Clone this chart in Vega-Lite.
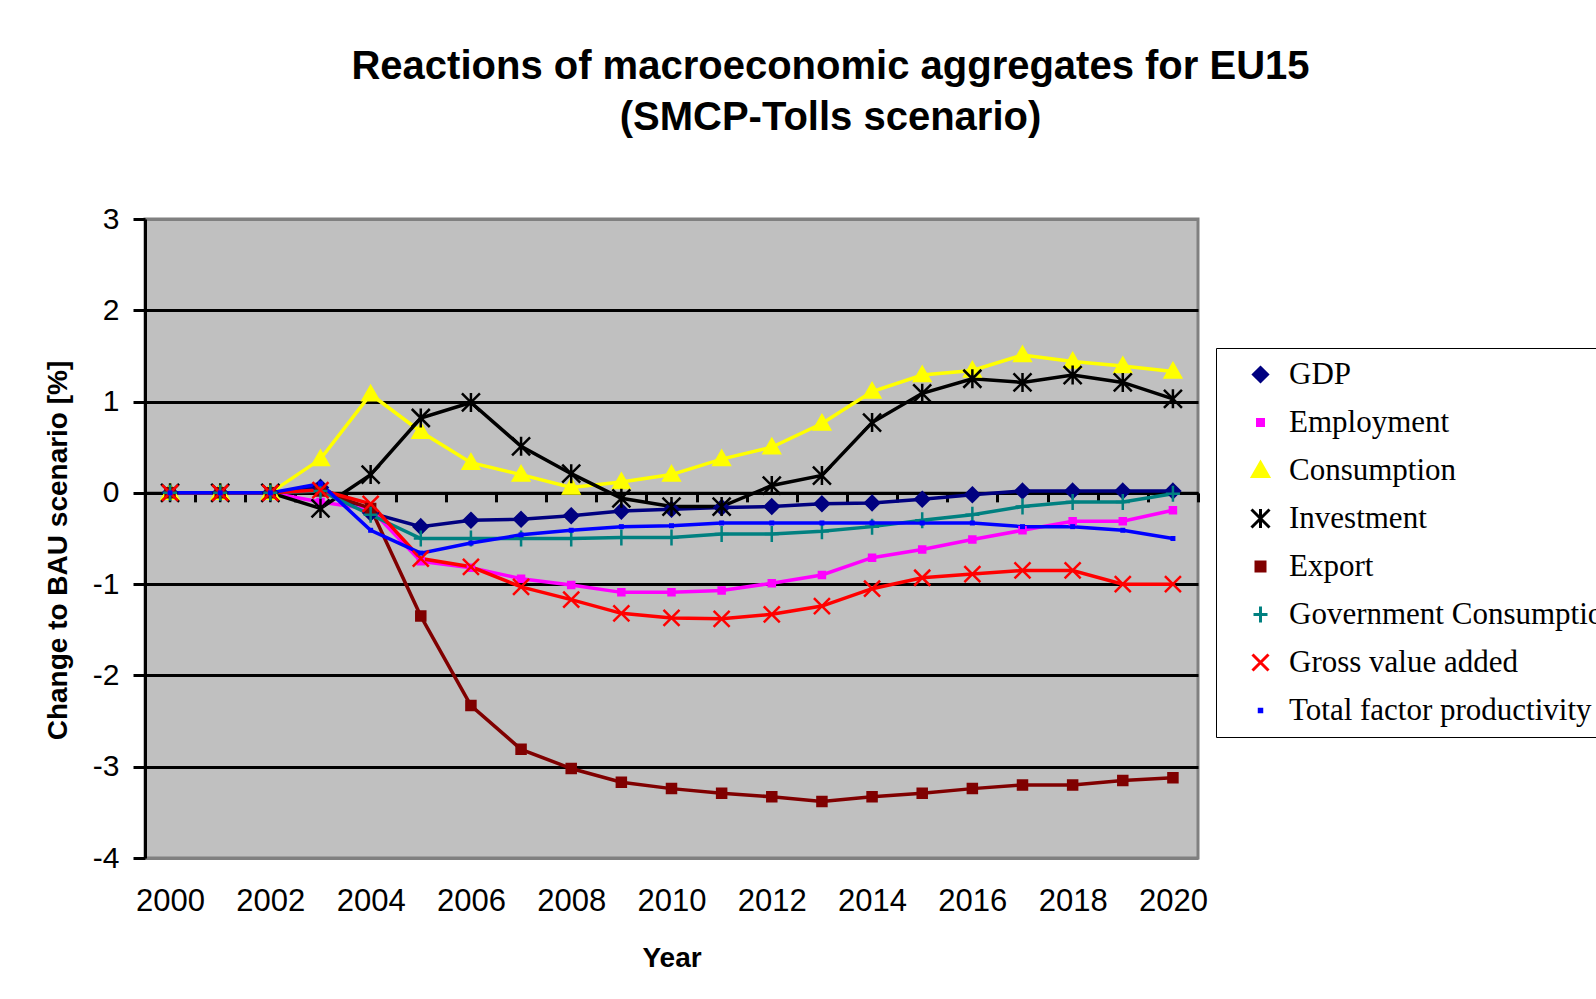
{
  "$schema": "https://vega.github.io/schema/vega-lite/v6.json",
  "width": 1053,
  "height": 639,
  "autosize": {"type": "none"},
  "padding": {"left": 145, "top": 219, "right": 398, "bottom": 141},
  "background": "white",
  "title": {
    "text": ["Reactions of macroeconomic aggregates for EU15", "(SMCP-Tolls scenario)"],
    "font": "Liberation Sans",
    "fontSize": 40,
    "fontWeight": "bold",
    "color": "black",
    "anchor": "middle",
    "frame": "group",
    "dx": 159,
    "baseline": "alphabetic",
    "lineHeight": 51,
    "offset": 34
  },
  "data": {
    "values": [
      {"year": 2000, "GDP": 0, "Employment": 0, "Consumption": 0, "Investment": 0, "Export": 0, "Government Consumption": 0, "Gross value added": 0, "Total factor productivity": 0},
      {"year": 2001, "GDP": 0, "Employment": 0, "Consumption": 0, "Investment": 0, "Export": 0, "Government Consumption": 0, "Gross value added": 0, "Total factor productivity": 0},
      {"year": 2002, "GDP": 0, "Employment": 0, "Consumption": 0, "Investment": 0, "Export": 0, "Government Consumption": 0, "Gross value added": 0, "Total factor productivity": 0},
      {"year": 2003, "GDP": 0.06, "Employment": -0.10, "Consumption": 0.37, "Investment": -0.17, "Export": 0.02, "Government Consumption": 0.02, "Gross value added": 0.03, "Total factor productivity": 0.10},
      {"year": 2004, "GDP": -0.22, "Employment": -0.18, "Consumption": 1.08, "Investment": 0.20, "Export": -0.17, "Government Consumption": -0.24, "Gross value added": -0.12, "Total factor productivity": -0.41},
      {"year": 2005, "GDP": -0.37, "Employment": -0.75, "Consumption": 0.67, "Investment": 0.82, "Export": -1.35, "Government Consumption": -0.50, "Gross value added": -0.72, "Total factor productivity": -0.66},
      {"year": 2006, "GDP": -0.30, "Employment": -0.82, "Consumption": 0.33, "Investment": 0.99, "Export": -2.33, "Government Consumption": -0.50, "Gross value added": -0.81, "Total factor productivity": -0.55},
      {"year": 2007, "GDP": -0.29, "Employment": -0.94, "Consumption": 0.20, "Investment": 0.51, "Export": -2.81, "Government Consumption": -0.50, "Gross value added": -1.03, "Total factor productivity": -0.46},
      {"year": 2008, "GDP": -0.25, "Employment": -1.01, "Consumption": 0.06, "Investment": 0.21, "Export": -3.02, "Government Consumption": -0.50, "Gross value added": -1.17, "Total factor productivity": -0.41},
      {"year": 2009, "GDP": -0.20, "Employment": -1.09, "Consumption": 0.12, "Investment": -0.06, "Export": -3.17, "Government Consumption": -0.49, "Gross value added": -1.32, "Total factor productivity": -0.37},
      {"year": 2010, "GDP": -0.18, "Employment": -1.09, "Consumption": 0.20, "Investment": -0.15, "Export": -3.24, "Government Consumption": -0.49, "Gross value added": -1.37, "Total factor productivity": -0.36},
      {"year": 2011, "GDP": -0.16, "Employment": -1.07, "Consumption": 0.37, "Investment": -0.15, "Export": -3.29, "Government Consumption": -0.45, "Gross value added": -1.38, "Total factor productivity": -0.33},
      {"year": 2012, "GDP": -0.15, "Employment": -0.99, "Consumption": 0.50, "Investment": 0.08, "Export": -3.33, "Government Consumption": -0.45, "Gross value added": -1.33, "Total factor productivity": -0.33},
      {"year": 2013, "GDP": -0.12, "Employment": -0.90, "Consumption": 0.76, "Investment": 0.19, "Export": -3.38, "Government Consumption": -0.42, "Gross value added": -1.24, "Total factor productivity": -0.33},
      {"year": 2014, "GDP": -0.11, "Employment": -0.71, "Consumption": 1.11, "Investment": 0.77, "Export": -3.33, "Government Consumption": -0.37, "Gross value added": -1.05, "Total factor productivity": -0.33},
      {"year": 2015, "GDP": -0.07, "Employment": -0.62, "Consumption": 1.29, "Investment": 1.09, "Export": -3.29, "Government Consumption": -0.30, "Gross value added": -0.93, "Total factor productivity": -0.33},
      {"year": 2016, "GDP": -0.02, "Employment": -0.51, "Consumption": 1.34, "Investment": 1.25, "Export": -3.24, "Government Consumption": -0.24, "Gross value added": -0.89, "Total factor productivity": -0.33},
      {"year": 2017, "GDP": 0.02, "Employment": -0.41, "Consumption": 1.51, "Investment": 1.21, "Export": -3.20, "Government Consumption": -0.15, "Gross value added": -0.85, "Total factor productivity": -0.37},
      {"year": 2018, "GDP": 0.02, "Employment": -0.31, "Consumption": 1.44, "Investment": 1.29, "Export": -3.20, "Government Consumption": -0.10, "Gross value added": -0.85, "Total factor productivity": -0.37},
      {"year": 2019, "GDP": 0.02, "Employment": -0.31, "Consumption": 1.39, "Investment": 1.21, "Export": -3.15, "Government Consumption": -0.10, "Gross value added": -1.00, "Total factor productivity": -0.41},
      {"year": 2020, "GDP": 0.02, "Employment": -0.19, "Consumption": 1.33, "Investment": 1.03, "Export": -3.12, "Government Consumption": -0.01, "Gross value added": -1.00, "Total factor productivity": -0.50}
    ]
  },
  "transform": [
    {"fold": ["GDP", "Employment", "Consumption", "Investment", "Export", "Government Consumption", "Gross value added", "Total factor productivity"], "as": ["series", "value"]}
  ],
  "resolve": {"axis": {"x": "independent"}},
  "layer": [
    {
      "mark": {"type": "line", "strokeWidth": 3.5},
      "encoding": {
        "x": {
          "field": "year", "type": "quantitative",
          "scale": {"domain": [1999.5, 2020.5], "nice": false, "zero": false},
          "axis": {
            "values": [2000, 2002, 2004, 2006, 2008, 2010, 2012, 2014, 2016, 2018, 2020],
            "format": "d", "ticks": false, "domain": false, "grid": false,
            "labelFontSize": 31, "labelPadding": 28, "labelFlush": false, "labelOverlap": false,
            "title": "Year", "titlePadding": 28
          }
        },
        "y": {
          "field": "value", "type": "quantitative",
          "scale": {"domain": [-4, 3], "nice": false, "zero": false},
          "axis": {
            "values": [-4, -3, -2, -1, 0, 1, 2, 3],
            "labelExpr": "toString(datum.value)",
            "grid": true,
            "gridColor": {"condition": {"test": "datum.value > 2.5 || datum.value < -3.5", "value": "#808080"}, "value": "black"},
            "tickSize": 12, "labelPadding": 14, "labelFontSize": 30,
            "title": "Change to BAU scenario [%]", "titlePadding": 20, "titleY": 331
          }
        },
        "color": {
          "field": "series", "type": "nominal",
          "scale": {
            "domain": ["GDP", "Employment", "Consumption", "Investment", "Export", "Government Consumption", "Gross value added", "Total factor productivity"],
            "range": ["#000080", "#ff00ff", "#ffff00", "#000000", "#800000", "#008080", "#ff0000", "#0000ff"]
          },
          "legend": {
            "orient": "none", "legendX": 1071, "legendY": 129,
            "title": null,
            "labelFont": "Liberation Serif", "labelFontSize": 31, "labelColor": "black", "labelLimit": 700,
            "strokeColor": "black", "fillColor": "white",
            "padding": 11, "rowPadding": 16, "symbolOffset": 18, "labelOffset": 13,
            "symbolSize": 100, "symbolStrokeWidth": 3
          }
        }
      }
    },
    {
      "mark": {"type": "point", "filled": true, "opacity": 1, "strokeWidth": 2.5, "size": 100},
      "encoding": {
        "x": {
          "field": "year", "type": "quantitative",
          "axis": {
            "orient": "bottom", "offset": -365.14,
            "values": [1999.5, 2000.5, 2001.5, 2002.5, 2003.5, 2004.5, 2005.5, 2006.5, 2007.5, 2008.5, 2009.5, 2010.5, 2011.5, 2012.5, 2013.5, 2014.5, 2015.5, 2016.5, 2017.5, 2018.5, 2019.5, 2020.5],
            "labels": false, "ticks": true, "tickSize": 9, "domain": true, "grid": false, "title": null
          }
        },
        "y": {"field": "value", "type": "quantitative"},
        "color": {"field": "series", "type": "nominal", "legend": null},
        "stroke": {
          "field": "series", "type": "nominal",
          "scale": {
            "domain": ["GDP", "Employment", "Consumption", "Investment", "Export", "Government Consumption", "Gross value added", "Total factor productivity"],
            "range": ["#000080", "#ff00ff", "#ffff00", "#000000", "#800000", "#008080", "#ff0000", "#0000ff"]
          },
          "legend": null
        },
        "shape": {
          "field": "series", "type": "nominal",
          "scale": {
            "domain": ["GDP", "Employment", "Consumption", "Investment", "Export", "Government Consumption", "Gross value added", "Total factor productivity"],
            "range": [
              "M0,-1.4L1.4,0L0,1.4L-1.4,0Z",
              "M-0.6,-0.6L0.6,-0.6L0.6,0.6L-0.6,0.6Z",
              "M0,-1.6L1.6,1.2L-1.6,1.2Z",
              "M-1.8,-1.8L1.8,1.8M-1.8,1.8L1.8,-1.8M0,-1.9L0,1.9",
              "M-0.9,-0.9L0.9,-0.9L0.9,0.9L-0.9,0.9Z",
              "M-1.4,0L1.4,0M0,-1.6L0,1.6",
              "M-1.6,-1.6L1.6,1.6M-1.6,1.6L1.6,-1.6",
              "M-0.25,-0.25L0.25,-0.25L0.25,0.25L-0.25,0.25Z"
            ]
          },
          "legend": null
        }
      }
    }
  ],
  "config": {
    "view": {"fill": "#c0c0c0", "stroke": "#808080", "strokeWidth": 3},
    "font": "Liberation Sans",
    "axis": {
      "labelFont": "Liberation Sans", "labelColor": "black",
      "titleFont": "Liberation Sans", "titleFontSize": 28, "titleFontWeight": "bold", "titleColor": "black",
      "domainColor": "black", "domainWidth": 3,
      "tickColor": "black", "tickWidth": 3,
      "gridWidth": 3, "gridOpacity": 1
    }
  }
}
